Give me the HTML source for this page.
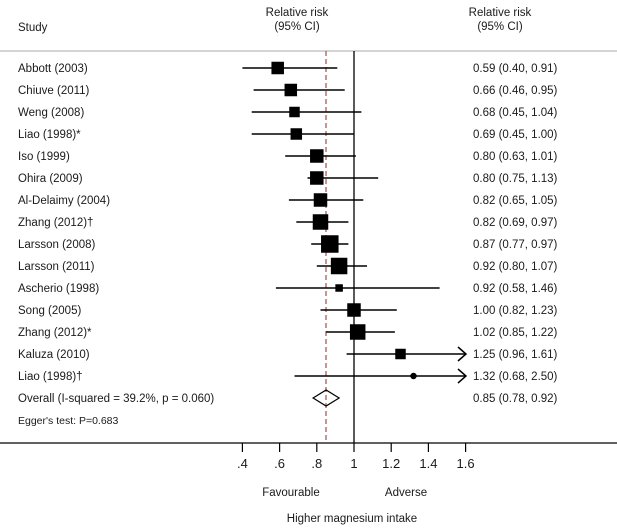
<!DOCTYPE html>
<html><head><meta charset="utf-8"><style>
html,body{margin:0;padding:0;background:#fff;}
svg{display:block;}
text{font-family:"Liberation Sans",Arial,sans-serif;font-size:11.5px;fill:#1a1a1a;}
</style></head><body>
<svg width="617" height="528" viewBox="0 0 617 528" xmlns="http://www.w3.org/2000/svg">
<text x="18" y="31">Study</text>
<text x="297" y="16" text-anchor="middle">Relative risk</text>
<text x="297" y="30" text-anchor="middle">(95% CI)</text>
<text x="500" y="16" text-anchor="middle">Relative risk</text>
<text x="500" y="30" text-anchor="middle">(95% CI)</text>
<line x1="0" y1="51" x2="617" y2="51" stroke="#aaa" stroke-width="1"/>
<line x1="354" y1="51" x2="354" y2="443" stroke="#000" stroke-width="1.3"/>
<line x1="326" y1="51" x2="326" y2="443" stroke="#a05050" stroke-width="1.2" stroke-dasharray="5,3"/>
<g stroke="#000" stroke-width="1.5" fill="#000">
<line x1="242.4" y1="68" x2="337.3" y2="68"/><rect x="272.2" y="62.5" width="11" height="11"/>
<line x1="253.6" y1="90" x2="344.7" y2="90"/><rect x="285.3" y="84.5" width="11" height="11"/>
<line x1="251.7" y1="112" x2="361.4" y2="112"/><rect x="290" y="107.5" width="9" height="9"/>
<line x1="251.7" y1="134" x2="354" y2="134"/><rect x="291.3" y="129" width="10" height="10"/>
<line x1="285.2" y1="156" x2="355.9" y2="156"/><rect x="310.8" y="150" width="12" height="12"/>
<line x1="307.5" y1="178" x2="378.2" y2="178"/><rect x="310.8" y="172" width="12" height="12"/>
<line x1="288.9" y1="200" x2="363.3" y2="200"/><rect x="314.5" y="194" width="12" height="12"/>
<line x1="296.3" y1="222" x2="348.4" y2="222"/><rect x="313.5" y="215" width="14" height="14"/>
<line x1="311.2" y1="244" x2="348.4" y2="244"/><rect x="321.8" y="236" width="16" height="16"/>
<line x1="316.8" y1="266" x2="367" y2="266"/><rect x="331.6" y="258.5" width="15" height="15"/>
<line x1="275.9" y1="288" x2="439.6" y2="288"/><rect x="336.1" y="285" width="6" height="6"/>
<line x1="320.5" y1="310" x2="396.8" y2="310"/><rect x="348" y="304" width="12" height="12"/>
<line x1="326.1" y1="332" x2="394.9" y2="332"/><rect x="350.7" y="325" width="14" height="14"/>
<line x1="346.6" y1="354" x2="466" y2="354"/><rect x="396" y="349.5" width="9" height="9"/>
<line x1="294.5" y1="376" x2="466" y2="376"/><circle cx="413.5" cy="376" r="2.5"/>
</g>
<g stroke="#000" stroke-width="1.5" fill="none">
<polyline points="458,347 466,354 458,361"/>
<polyline points="458,369 466,376 458,383"/>
<polygon points="313.1,398 326.1,390 339.1,398 326.1,406" stroke-width="1.2"/>
</g>
<g>
<text x="18" y="72">Abbott (2003)</text><text x="473" y="72">0.59 (0.40, 0.91)</text>
<text x="18" y="94">Chiuve (2011)</text><text x="473" y="94">0.66 (0.46, 0.95)</text>
<text x="18" y="116">Weng (2008)</text><text x="473" y="116">0.68 (0.45, 1.04)</text>
<text x="18" y="138">Liao (1998)*</text><text x="473" y="138">0.69 (0.45, 1.00)</text>
<text x="18" y="160">Iso (1999)</text><text x="473" y="160">0.80 (0.63, 1.01)</text>
<text x="18" y="182">Ohira (2009)</text><text x="473" y="182">0.80 (0.75, 1.13)</text>
<text x="18" y="204">Al-Delaimy (2004)</text><text x="473" y="204">0.82 (0.65, 1.05)</text>
<text x="18" y="226">Zhang (2012)†</text><text x="473" y="226">0.82 (0.69, 0.97)</text>
<text x="18" y="248">Larsson (2008)</text><text x="473" y="248">0.87 (0.77, 0.97)</text>
<text x="18" y="270">Larsson (2011)</text><text x="473" y="270">0.92 (0.80, 1.07)</text>
<text x="18" y="292">Ascherio (1998)</text><text x="473" y="292">0.92 (0.58, 1.46)</text>
<text x="18" y="314">Song (2005)</text><text x="473" y="314">1.00 (0.82, 1.23)</text>
<text x="18" y="336">Zhang (2012)*</text><text x="473" y="336">1.02 (0.85, 1.22)</text>
<text x="18" y="358">Kaluza (2010)</text><text x="473" y="358">1.25 (0.96, 1.61)</text>
<text x="18" y="380">Liao (1998)†</text><text x="473" y="380">1.32 (0.68, 2.50)</text>
<text x="18" y="402">Overall  (I-squared = 39.2%, p = 0.060)</text><text x="473" y="402">0.85 (0.78, 0.92)</text>
<text x="18" y="424" style="font-size:10.5px">Egger's test: P=0.683</text>
</g>
<line x1="0" y1="443" x2="617" y2="443" stroke="#000" stroke-width="1.2"/>
<g stroke="#000" stroke-width="1.2">
<line x1="242.4" y1="443" x2="242.4" y2="452"/>
<line x1="279.6" y1="443" x2="279.6" y2="452"/>
<line x1="316.8" y1="443" x2="316.8" y2="452"/>
<line x1="354" y1="443" x2="354" y2="452"/>
<line x1="391.2" y1="443" x2="391.2" y2="452"/>
<line x1="428.4" y1="443" x2="428.4" y2="452"/>
<line x1="465.6" y1="443" x2="465.6" y2="452"/>
</g>
<g style="font-size:13px" text-anchor="middle">
<text x="242.4" y="468" style="font-size:13px">.4</text>
<text x="279.6" y="468" style="font-size:13px">.6</text>
<text x="316.8" y="468" style="font-size:13px">.8</text>
<text x="354" y="468" style="font-size:13px">1</text>
<text x="391.2" y="468" style="font-size:13px">1.2</text>
<text x="428.4" y="468" style="font-size:13px">1.4</text>
<text x="465.6" y="468" style="font-size:13px">1.6</text>
</g>
<text x="291" y="496" text-anchor="middle">Favourable</text>
<text x="406" y="496" text-anchor="middle">Adverse</text>
<text x="352" y="522" text-anchor="middle">Higher magnesium intake</text>
</svg>
</body></html>
